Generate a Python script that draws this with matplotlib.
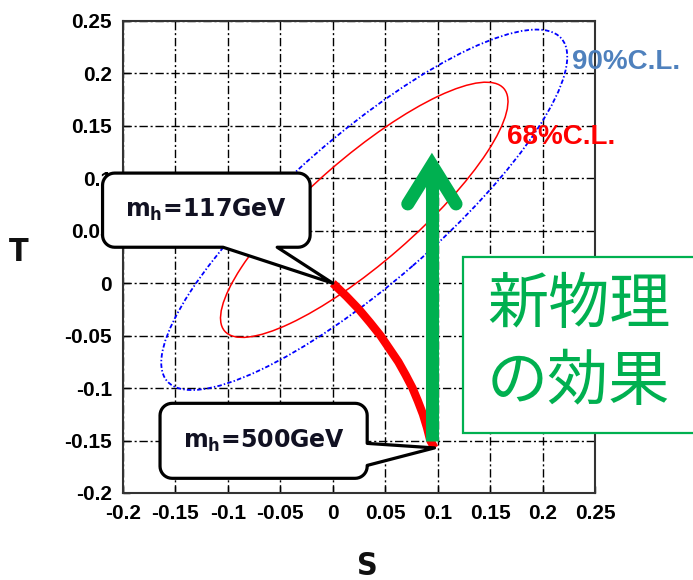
import matplotlib
matplotlib.use("Agg")
import matplotlib.pyplot as plt
import numpy as np
from matplotlib.patches import Ellipse, Polygon, Rectangle

# axis ticks
tick_values = [-0.2, -0.15, -0.1, -0.05, 0.0, 0.05, 0.1, 0.15, 0.2, 0.25]
tick_labels = ['-0.2', '-0.15', '-0.1', '-0.05', '0', '0.05', '0.1', '0.15', '0.2', '0.25']

# confidence ellipses (S, T plane)
ellipse_center = (0.03, 0.07)
ellipse_angle = 41.0
ellipse_90_axes = (0.249, 0.0706)
ellipse_68_axes = (0.1763, 0.050)

# SM Higgs line from m_h = 117 GeV to m_h = 500 GeV
higgs_S = [0.0, 0.013, 0.025, 0.0355, 0.0455, 0.054, 0.0625, 0.0695, 0.076, 0.0812, 0.086, 0.0898, 0.093, 0.097]
higgs_T = [0.0, -0.0125, -0.025, -0.0375, -0.05, -0.0625, -0.075, -0.0875, -0.1, -0.1125, -0.125, -0.1375, -0.15, -0.157]

# new physics arrow
arrow_S = 0.0945
arrow_T_start = -0.15
arrow_T_tip = 0.1126

GREEN = '#00B050'


def callout(ax, x0, y0, x1, y1, r, side, base, tip):
    def arc(cx, cy, a0, a1):
        t = np.radians(np.linspace(a0, a1, 10))
        return list(zip(cx + r * np.cos(t), cy + r * np.sin(t)))
    pts = arc(x0 + r, y0 + r, 180, 270)
    if side == 'bottom':
        pts += [(base[0], y0), tip, (base[1], y0)]
    pts += arc(x1 - r, y0 + r, 270, 360)
    if side == 'right':
        pts += [(x1, base[0]), tip, (x1, base[1])]
    pts += arc(x1 - r, y1 - r, 0, 90)
    pts += arc(x0 + r, y1 - r, 90, 180)
    p = Polygon(pts, closed=True, facecolor='white', edgecolor='black',
                linewidth=2.3, joinstyle='round', clip_on=False, zorder=10)
    ax.add_patch(p)


def main():
    fig = plt.figure(figsize=(6.93, 5.8), dpi=100)
    ax = fig.add_axes([0.1775, 0.15, 0.6811, 0.8138])
    ax.set_xlim(-0.2, 0.25)
    ax.set_ylim(-0.2, 0.25)

    ax.set_xticks(tick_values)
    ax.set_xticklabels(tick_labels)
    ax.set_yticks(tick_values)
    ax.set_yticklabels(tick_labels)
    for lab in ax.get_xticklabels() + ax.get_yticklabels():
        lab.set_family('Liberation Sans')
        lab.set_fontweight('bold')
        lab.set_fontsize(15)
    ax.tick_params(direction='in', length=5, width=1, pad=8)
    ax.grid(True, color='black', linewidth=1.0, linestyle=(0, (6, 2, 1.5, 2)))
    ax.set_axisbelow(True)
    for sp in ax.spines.values():
        sp.set_color('#333333')
        sp.set_linewidth(1.5)

    # ellipses
    ax.add_patch(Ellipse(ellipse_center, 2 * ellipse_90_axes[0], 2 * ellipse_90_axes[1],
                         angle=ellipse_angle, fill=False, edgecolor='#0000FF',
                         linewidth=1.3, linestyle=(0, (2.5, 1.2, 0.8, 1.2)), zorder=3))
    ax.add_patch(Ellipse(ellipse_center, 2 * ellipse_68_axes[0], 2 * ellipse_68_axes[1],
                         angle=ellipse_angle, fill=False, edgecolor='#FF0000',
                         linewidth=1.1, zorder=3))

    # SM Higgs curve
    ax.plot(higgs_S, higgs_T, color='#FF0000', linewidth=6.0,
            solid_capstyle='butt', solid_joinstyle='round', zorder=4)

    # new physics arrow
    ax.plot([arrow_S, arrow_S], [arrow_T_start, arrow_T_tip - 0.008], color=GREEN,
            linewidth=9.4, solid_capstyle='butt', zorder=5)
    head_w, head_l = 0.023, 0.037
    ax.plot([arrow_S - head_w, arrow_S, arrow_S + head_w],
            [arrow_T_tip - head_l, arrow_T_tip, arrow_T_tip - head_l],
            color=GREEN, linewidth=9.4, solid_capstyle='round',
            solid_joinstyle='miter', zorder=5)

    # callouts
    callout(ax, -0.2195, 0.0343, -0.0216, 0.105, 0.0115, 'bottom',
            (-0.1046, -0.053), (higgs_S[0], higgs_T[0]))
    ax.text((-0.2195 - 0.0216) / 2, 0.0695, r'm$_{\mathbf{h}}$=117GeV',
            fontsize=17, fontweight='bold', color='#111122',
            ha='center', va='center', zorder=11)
    callout(ax, -0.1647, -0.186, 0.0328, -0.1145, 0.0115, 'right',
            (-0.1737, -0.1527), (higgs_S[-1], higgs_T[-1]))
    ax.text((-0.1647 + 0.0328) / 2, -0.1505, r'm$_{\mathbf{h}}$=500GeV',
            fontsize=17, fontweight='bold', color='#111122',
            ha='center', va='center', zorder=11)

    # C.L. labels
    ax.text(0.2284, 0.2109, '90%C.L.', color='#4F81BD', fontsize=20,
            fontweight='bold', family='Liberation Sans', ha='left', va='center',
            clip_on=False)
    ax.text(0.1664, 0.1393, '68%C.L.', color='#FF0000', fontsize=20,
            fontweight='bold', family='Liberation Sans', ha='left', va='center')

    # axis labels
    fig.text(0.0274, 0.5638, 'T', fontsize=23, fontweight='bold', color='#111111',
             ha='center', va='center', fontstretch='condensed')
    fig.text(0.5296, 0.0241, 'S', fontsize=23, fontweight='bold', color='#111111',
             ha='center', va='center', fontstretch='condensed')

    # green annotation box
    fig.patches.append(Rectangle((463 / 693, 1 - 433 / 580), 0.36, 176 / 580,
                                 transform=fig.transFigure, facecolor='white',
                                 edgecolor=GREEN, linewidth=1.6, zorder=20))
    fig.text(487 / 693, 1 - 306 / 580, '新物理', color=GREEN, fontsize=44,
             family=['Noto Sans CJK JP', 'DejaVu Sans'], ha='left', va='center', zorder=21)
    fig.text(487 / 693, 1 - 383 / 580, 'の効果', color=GREEN, fontsize=44,
             family=['Noto Sans CJK JP', 'DejaVu Sans'], ha='left', va='center', zorder=21)

    fig.savefig('out.png', dpi=100)


if __name__ == '__main__':
    main()
